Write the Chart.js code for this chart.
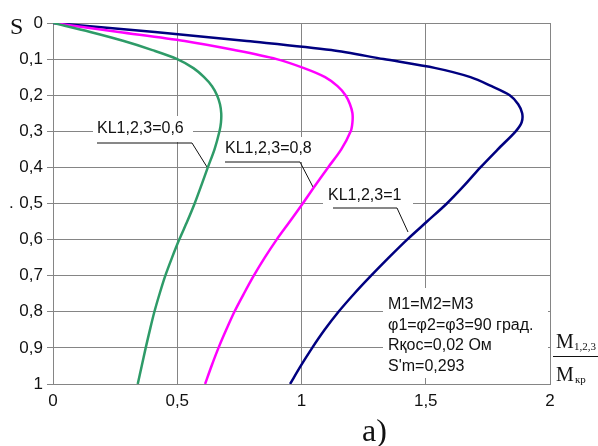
<!DOCTYPE html>
<html>
<head>
<meta charset="utf-8">
<script src="https://cdn.jsdelivr.net/npm/chart.js@4/dist/chart.umd.min.js"></script>
<style>
  body { margin: 0; background: #fff; }
  #wrap { width: 598px; height: 446px; }
</style>
</head>
<body>
<div id="wrap"><canvas id="slipChart" width="598" height="446"></canvas></div>
<script>
// скольжение s (ось Y, сверху вниз)
const slipValues = [0, 0.025, 0.05, 0.075, 0.1, 0.125, 0.15, 0.175, 0.2, 0.225, 0.25, 0.275, 0.3, 0.35, 0.4, 0.45, 0.5, 0.55, 0.6, 0.65, 0.7, 0.75, 0.8, 0.85, 0.9, 0.95, 1.0];
// M1,2,3 / Mкр для каждой кривой
const torqueKL06 = [0, 0.15, 0.285, 0.40, 0.50, 0.565, 0.608, 0.64, 0.66, 0.672, 0.677, 0.676, 0.670, 0.650, 0.623, 0.597, 0.570, 0.540, 0.508, 0.479, 0.452, 0.429, 0.408, 0.39, 0.373, 0.357, 0.341];
const torqueKL08 = [0, 0.265, 0.53, 0.73, 0.90, 1.01, 1.095, 1.145, 1.177, 1.195, 1.205, 1.205, 1.198, 1.16, 1.107, 1.055, 1.005, 0.953, 0.90, 0.852, 0.808, 0.768, 0.73, 0.697, 0.666, 0.638, 0.612];
const torqueKL1 = [0, 0.41, 0.78, 1.12, 1.33, 1.54, 1.68, 1.765, 1.838, 1.872, 1.888, 1.886, 1.862, 1.79, 1.72, 1.655, 1.585, 1.505, 1.425, 1.351, 1.28, 1.212, 1.149, 1.093, 1.043, 0.997, 0.954];

const curveLabels = ['KL1,2,3=0,6', 'KL1,2,3=0,8', 'KL1,2,3=1'];
const curveColors = ['#2e9b68', '#ff00ff', '#000080'];
const noteLines = ['M1=M2=M3', 'φ1=φ2=φ3=90 град.', 'Rқос=0,02 Ом', "S'm=0,293"];

const xTicks = [0, 0.5, 1, 1.5, 2];
const yTicks = [0, 0.1, 0.2, 0.3, 0.4, 0.5, 0.6, 0.7, 0.8, 0.9, 1];

const toPoints = (xs) => xs.map((x, i) => ({ x: x, y: slipValues[i] }));
const fmt = (v) => String(Math.round(v * 10) / 10).replace('.', ',');

const gridColor = '#858585';
const sansFont = '"Liberation Sans", Arial, sans-serif';
const serifFont = '"Liberation Serif", "Times New Roman", serif';

// подписи кривых: текст, подчеркивание, выноска к кривой (в пикселях)
const labelBoxes = [
    { text: curveLabels[0], tx: 97, ty: 129, box: [93, 116, 100, 26], line: [[97, 143], [192, 143], [207, 167]] },
    { text: curveLabels[1], tx: 225, ty: 149, box: [221, 137, 98, 25], line: [[225, 162], [300, 162], [313, 187]] },
    { text: curveLabels[2], tx: 328, ty: 196, box: [323, 185, 90, 22], line: [[333, 208], [397, 208], [408, 232]] }
];

const annotations = {
    id: 'annotations',
    beforeDatasetsDraw(chart) {
        const ctx = chart.ctx;
        ctx.save();
        ctx.fillStyle = '#fff';
        labelBoxes.forEach(l => ctx.fillRect(l.box[0], l.box[1], l.box[2], l.box[3]));
        ctx.fillRect(383, 288, 165, 90);

        ctx.fillStyle = '#111';
        ctx.font = '16px ' + sansFont;
        ctx.textBaseline = 'middle';
        ctx.textAlign = 'left';
        labelBoxes.forEach(l => ctx.fillText(l.text, l.tx, l.ty));
        noteLines.forEach((t, i) => ctx.fillText(t, 388, 304.5 + i * 20.6));

        ctx.strokeStyle = '#111';
        ctx.lineWidth = 1;
        labelBoxes.forEach(l => {
            ctx.beginPath();
            ctx.moveTo(l.line[0][0], l.line[0][1]);
            for (let i = 1; i < l.line.length; i++) ctx.lineTo(l.line[i][0], l.line[i][1]);
            ctx.stroke();
        });
        ctx.restore();
    },
    afterDraw(chart) {
        const ctx = chart.ctx;
        ctx.save();
        ctx.fillStyle = '#111';
        ctx.textBaseline = 'alphabetic';
        // S
        ctx.font = '24px ' + serifFont;
        ctx.fillText('S', 10, 34);
        // случайная точка у 0,5
        ctx.font = '17px ' + sansFont;
        ctx.fillText('.', 9, 208);
        // дробь M1,2,3 / Mкр
        ctx.font = '20px ' + serifFont;
        ctx.fillText('M', 556, 348);
        ctx.fillText('M', 556, 381);
        ctx.font = '11px ' + serifFont;
        ctx.fillText('1,2,3', 574, 350);
        ctx.fillText('кр', 575, 383);
        ctx.strokeStyle = '#111';
        ctx.lineWidth = 1;
        ctx.beginPath();
        ctx.moveTo(553, 356.5);
        ctx.lineTo(598, 356.5);
        ctx.stroke();
        // a)
        ctx.font = '32px ' + serifFont;
        ctx.fillText('a)', 362, 441);
        ctx.restore();
    }
};

const ctx = document.getElementById('slipChart').getContext('2d');
const slipChart = new Chart(ctx, {
    type: 'scatter',
    data: {
        datasets: [
            { label: curveLabels[0], data: toPoints(torqueKL06), borderColor: curveColors[0] },
            { label: curveLabels[1], data: toPoints(torqueKL08), borderColor: curveColors[1] },
            { label: curveLabels[2], data: toPoints(torqueKL1), borderColor: curveColors[2] }
        ].map(d => Object.assign(d, {
            showLine: true,
            pointRadius: 0,
            borderWidth: 2.5,
            tension: 0.3,
            fill: false
        }))
    },
    options: {
        responsive: false,
        animation: false,
        layout: { padding: { left: 0, top: 23, right: 48, bottom: 0 } },
        plugins: {
            legend: { display: false },
            tooltip: { enabled: false }
        },
        scales: {
            x: {
                type: 'linear',
                min: 0,
                max: 2,
                afterBuildTicks: (scale) => { scale.ticks = xTicks.map(v => ({ value: v })); },
                afterFit: (scale) => { scale.height = 62; },
                grid: { color: gridColor, drawTicks: false },
                border: { color: gridColor },
                ticks: {
                    padding: 7,
                    color: '#111',
                    font: { family: sansFont, size: 17 },
                    callback: (v) => fmt(v)
                }
            },
            y: {
                type: 'linear',
                reverse: true,
                min: 0,
                max: 1,
                afterBuildTicks: (scale) => { scale.ticks = yTicks.map(v => ({ value: v })); },
                afterFit: (scale) => { scale.width = 53; },
                grid: { color: gridColor, tickLength: 6 },
                border: { color: gridColor },
                ticks: {
                    padding: 4,
                    color: '#111',
                    font: { family: sansFont, size: 17 },
                    callback: (v) => fmt(v)
                }
            }
        }
    },
    plugins: [annotations]
});
</script>
</body>
</html>
